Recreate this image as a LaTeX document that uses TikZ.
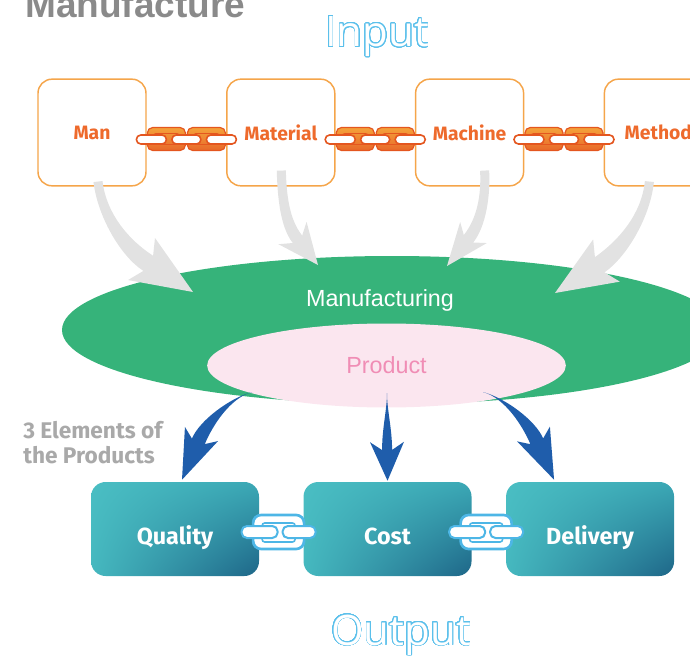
\documentclass[tikz,border=0pt]{standalone}
\usepackage{fontspec}
\setmainfont{Fira Sans}
\newfontfamily\headfont{Liberation Sans}
\newfontfamily\hollowfont{Open Sans}
\usepackage[copies]{contour}
\contourlength{0.6pt}
\contournumber{32}
\usetikzlibrary{positioning}
\usetikzlibrary{calc}
\usetikzlibrary{shapes.geometric}
\usetikzlibrary{shadings}

\definecolor{inorange}{HTML}{F5A54A}
\definecolor{labelorange}{HTML}{EE6A2C}
\definecolor{chainlight}{HTML}{F4A23A}
\definecolor{chaindark}{HTML}{E8682A}
\definecolor{chainred}{HTML}{E4561F}
\definecolor{mfggreen}{HTML}{36B37A}
\definecolor{prodpink}{HTML}{FBE6EF}
\definecolor{prodtext}{HTML}{F08DB5}
\definecolor{arrowgray}{HTML}{E2E2E2}
\definecolor{arrowblue}{HTML}{1F5DAB}
\definecolor{tealA}{HTML}{4ABEC3}
\definecolor{tealB}{HTML}{3BA8B5}
\definecolor{tealC}{HTML}{45B8BF}
\definecolor{tealD}{HTML}{1E6688}
\definecolor{linkblue}{HTML}{4DB6E6}
\definecolor{hollowblue}{HTML}{5BC0EB}
\definecolor{titlegray}{HTML}{8A8A8A}
\definecolor{notegray}{HTML}{A9A9A9}

% tapered bent arrow: fill, tail, ctrl1, ctrl2, head base, tip, tail/2, shaft/2, barb/2
\newcommand{\bentarrow}[9]{%
  \coordinate (ba-s) at #2;
  \coordinate (ba-c) at #3;
  \coordinate (ba-d) at #4;
  \coordinate (ba-m) at #5;
  \coordinate (ba-t) at #6;
  \coordinate (ba-j) at ($(ba-m)!6pt!(ba-t)$);
  \coordinate (ba-s1) at ($(ba-s)!#7!90:(ba-c)$);
  \coordinate (ba-s2) at ($(ba-s)!#7!-90:(ba-c)$);
  \coordinate (ba-j1) at ($(ba-j)!#8!90:(ba-t)$);
  \coordinate (ba-j2) at ($(ba-j)!#8!-90:(ba-t)$);
  \coordinate (ba-b1) at ($(ba-m)!#9!90:(ba-t)$);
  \coordinate (ba-b2) at ($(ba-m)!#9!-90:(ba-t)$);
  \fill[#1] (ba-s1) .. controls ($(ba-c)+(ba-s1)-(ba-s)$) and ($(ba-d)+(ba-j1)-(ba-j)$) .. (ba-j1)
    -- (ba-b1) -- (ba-t) -- (ba-b2) -- (ba-j2)
    .. controls ($(ba-d)+(ba-j2)-(ba-j)$) and ($(ba-c)+(ba-s2)-(ba-s)$) .. (ba-s2) -- cycle;
}

\newcommand{\orangechain}[2]{%
  \begin{scope}[shift={($(#1.east)!0.5!(#2.west)$)}]
    \path[orangelink] (-39,-5) rectangle (-1,18);
    \draw[chainred, line width=0.7pt, rounded corners=2pt] (-33,1) rectangle (-7,12);
    \path[orangelink] (1,-5) rectangle (39,18);
    \draw[chainred, line width=0.7pt, rounded corners=2pt] (7,1) rectangle (33,12);
    \path[orangebar] (-50,2.5) rectangle (-20,11.5);
    \path[orangebar] (-14.5,2.5) rectangle (14.5,11.5);
    \path[orangebar] (20,2.5) rectangle (50,11.5);
  \end{scope}}

\newcommand{\bluechain}[2]{%
  \begin{scope}[shift={($(#1.east)!0.5!(#2.west)$)}, xshift=-2pt]
    \path[bluering] (-25.5,-14) rectangle (25.5,20);
    \path[bluehole] (-16.5,-6) rectangle (16.5,13);
    \path[bluebar] (-37,-3) rectangle (-1,9);
    \path[bluebar] (4,-3) rectangle (37,9);
  \end{scope}}

\begin{document}
\begin{tikzpicture}[x=0.75pt, y=-0.75pt]
  \tikzset{
    inbox/.style = {shape=rectangle, rounded corners=10.5pt, draw=inorange, line width=1.1pt, fill=white,
      minimum width=81pt, minimum height=80pt, inner sep=0pt, text=labelorange,
      font=\bfseries\fontsize{14.5}{17}\selectfont},
    outbox/.style = {shape=rectangle, rounded corners=11pt, minimum width=126pt, minimum height=70.5pt,
      upper left=tealA, upper right=tealB, lower left=tealC, lower right=tealD,
      text height=22.5pt, text depth=0pt,
      text=white, font=\bfseries\fontsize{17.5}{20}\selectfont},
    orangelink/.style = {top color=chainlight, bottom color=chaindark, draw=chainred, line width=0.9pt, rounded corners=4pt},
    orangebar/.style = {fill=white, draw=chainred, line width=1.2pt, rounded corners=3.3pt},
    bluering/.style = {fill=white, draw=linkblue, line width=2pt, rounded corners=6pt},
    bluehole/.style = {fill=white, draw=linkblue, line width=1.2pt, rounded corners=2pt},
    bluebar/.style = {fill=white, draw=linkblue, line width=1.5pt, rounded corners=4pt},
    titletext/.style = {text=titlegray, inner sep=0pt, font=\headfont\bfseries\fontsize{27.75}{32}\selectfont},
    hollowtext/.style = {text=white, inner sep=0pt, font=\hollowfont\fontsize{31.5}{36}\selectfont},
    notetext/.style = {text=notegray, inner sep=0pt, font=\bfseries\fontsize{17}{18.75}\selectfont},
    mfgtext/.style = {text=white, inner sep=0pt, font=\headfont\fontsize{17.5}{20}\selectfont}
  }
  \useasboundingbox (0,0) rectangle (690,657);
  \clip (0,0) rectangle (690,657);

  \node[titletext, anchor=base west] (title) at (25,17.5) {Manufacture};
  \node[hollowtext, anchor=base] (input) at (377,46.5) {\contour{hollowblue}{Input}};

  % the four inputs
  \node[inbox] (man) at (92,132.5) {Man};
  \node[inbox, right=59.5pt of man] (material) {Material};
  \node[inbox, right=59.5pt of material] (machine) {Machine};
  \node[inbox, right=59.5pt of machine] (method) {Method};

  % manufacturing and product
  \node[ellipse, fill=mfggreen, minimum width=495pt, minimum height=111pt, inner sep=0pt] (mfg) at (392,330) {};
  \node[mfgtext, anchor=base] (mfglabel) at ($(mfg.center)+(-12,-24)$) {Manufacturing};
  \node[ellipse, fill=prodpink, minimum width=269pt, minimum height=63pt, inner sep=0pt,
    text=prodtext, font=\headfont\fontsize{17.5}{20}\selectfont] (prod) at (386.5,365.5) {Product};

  % inputs into manufacturing
  \bentarrow{arrowgray}{($(man.south)+(6,-5)$)}{(102,215)}{(124.6,248)}{(141.5,259)}{($(mfg.center)+(-199,-38)$)}{3.4pt}{6.75pt}{18.75pt}
  \bentarrow{arrowgray}{($(material.south)+(0.5,-16)$)}{(282,195)}{(284.5,223)}{(292.5,233)}{($(mfg.center)+(-74,-65)$)}{3.4pt}{4.5pt}{13.5pt}
  \bentarrow{arrowgray}{($(machine.south)+(15,-16)$)}{(486,195)}{(481.6,222.3)}{(473.5,232.5)}{($(mfg.center)+(55,-64)$)}{3.4pt}{4.5pt}{12.75pt}
  \bentarrow{arrowgray}{($(method.south)+(-9,-5)$)}{(646,215)}{(623.4,248)}{(606.5,260.5)}{($(mfg.center)+(163,-37)$)}{3.4pt}{6.75pt}{18.75pt}

  \orangechain{man}{material}
  \orangechain{material}{machine}
  \orangechain{machine}{method}

  % the three outputs
  \node[outbox] (quality) at (175,529) {Quality};
  \node[outbox, right=33pt of quality] (cost) {Cost};
  \node[outbox, right=25.5pt of cost] (delivery) {Delivery};

  \bentarrow{arrowblue}{($(prod.center)+(-134.5,26.5)$)}{(230,398)}{(206,423)}{(201.5,434)}{($(quality.north)+(7,-2)$)}{0pt}{5.25pt}{13.5pt}
  \bentarrow{arrowblue}{($(prod.center)+(0.5,27.5)$)}{(387,410)}{(387,428)}{(387,442)}{($(cost.north)+(0,-1)$)}{0pt}{3.75pt}{12.75pt}
  \bentarrow{arrowblue}{($(prod.center)+(96.5,26.5)$)}{(505,398)}{(529,423)}{(533.5,434)}{($(delivery.north)+(-36,-2)$)}{0pt}{5.25pt}{13.5pt}

  \bluechain{quality}{cost}
  \bluechain{cost}{delivery}

  \node[notetext, anchor=north west, align=left] (elements) at (23,421) {3 Elements of\\the Products};
  \node[hollowtext, anchor=base] (output) at (401,645) {\contour{hollowblue}{Output}};
\end{tikzpicture}
\end{document}
